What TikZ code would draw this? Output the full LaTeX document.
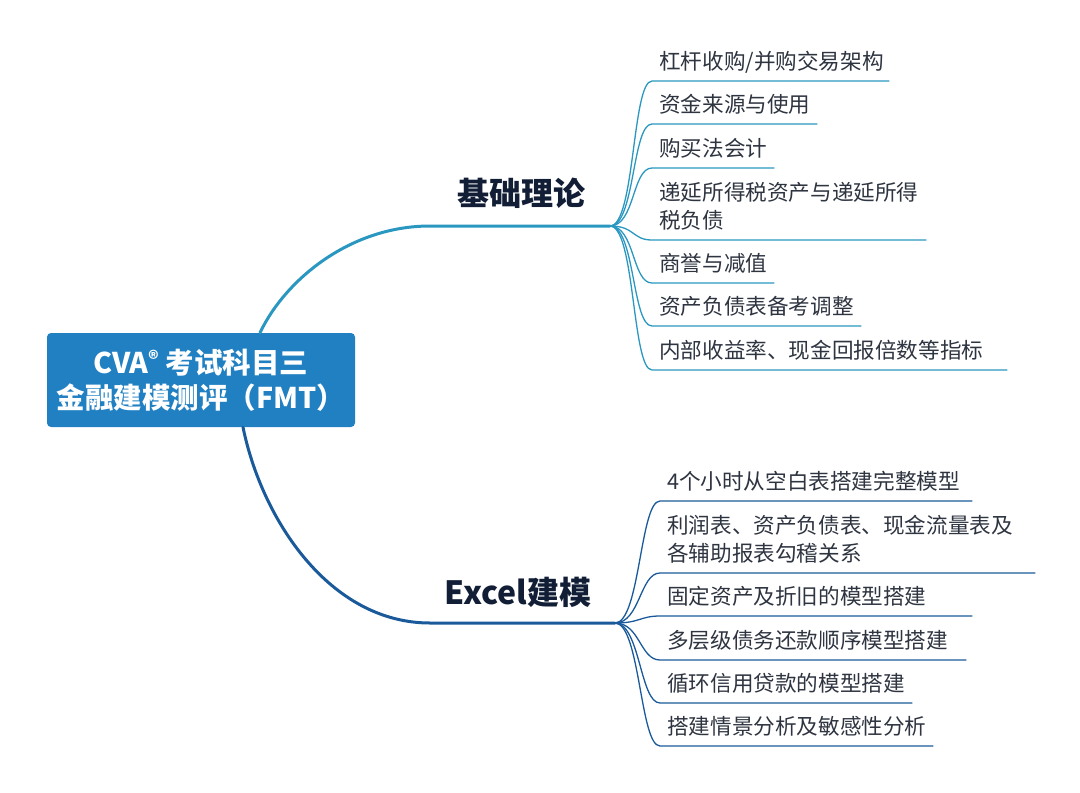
\documentclass[tikz,border=0pt]{standalone}
\usepackage{fontspec}
\setmainfont{Noto Sans CJK SC}
\usepackage{tikz}
\usetikzlibrary{positioning}

\definecolor{rootblue}{HTML}{2180C2}
\definecolor{topline}{HTML}{2A97C0}
\definecolor{botline}{HTML}{1B5A9A}
\definecolor{labelnavy}{HTML}{111E36}
\definecolor{leafgray}{HTML}{2E3440}

\newcommand\rootfont{\fontsize{28.5}{35}\selectfont\bfseries}
\newcommand\branchfont{\fontsize{32}{36}\selectfont\bfseries}
\newcommand\leaffont{\fontsize{21.6}{28}\selectfont}

\begin{document}
\begin{tikzpicture}[
  x=1pt,y=-1pt,
  root/.style={fill=rootblue, rounded corners=4pt, minimum width=308pt, minimum height=94pt, align=center, text=white, font=\rootfont},
  branch/.style={font=\branchfont, text=labelnavy},
  leaf/.style={anchor=south west, align=left, inner xsep=7pt, inner ysep=11.5pt, text depth=0pt, font=\leaffont, text=leafgray},
  twoline/.style={text depth=28pt},
  trunk/.style={line width=3pt, line cap=round},
  twig/.style={line width=1.3pt}
]
\useasboundingbox (0,0) rectangle (1080,793);

% central topic
\node[root] (root) at (201,380) {CVA{\fontsize{20}{20}\selectfont\raisebox{0.6ex}{®}} 考试科目三\\金融建模测评（FMT）};

% main branches
\coordinate (hubA) at (610,226);
\coordinate (hubB) at (615,623);
\node[branch] (theory) at (521,193) {基础理论};
\node[branch] (excel) at (518,592) {Excel建模};

\draw[trunk, topline] ([xshift=59]root.north) .. controls (285,280) and (350,226) .. (430,226) -- (hubA);
\draw[trunk, botline] ([xshift=42]root.south) .. controls (262,520) and (330,623) .. (430,623) -- (hubB);

% theory leaves
\node[leaf, text width=223pt] (a1) at (652,81) {杠杆收购/并购交易架构};
\node[leaf, text width=151pt] (a2) at (652,124) {资金来源与使用};
\node[leaf, text width=108pt] (a3) at (652,168) {购买法会计};
\node[leaf, twoline, text width=260pt] (a4) at (652,240) {递延所得税资产与递延所得\\税负债};
\node[leaf, text width=108pt] (a5) at (652,283) {商誉与减值};
\node[leaf, text width=195pt] (a6) at (652,326) {资产负债表备考调整};
\node[leaf, text width=341pt] (a7) at (652,370) {内部收益率、现金回报倍数等指标};

\draw[twig, topline] (hubA) .. controls +(25,0) and +(-20,0) .. (a1.south west) -- (a1.south east);
\draw[twig, topline] (hubA) .. controls +(25,0) and +(-20,0) .. (a2.south west) -- (a2.south east);
\draw[twig, topline] (hubA) .. controls +(25,0) and +(-20,0) .. (a3.south west) -- (a3.south east);
\draw[twig, topline] (hubA) .. controls +(25,0) and +(-20,0) .. (a4.south west) -- (a4.south east);
\draw[twig, topline] (hubA) .. controls +(25,0) and +(-20,0) .. (a5.south west) -- (a5.south east);
\draw[twig, topline] (hubA) .. controls +(25,0) and +(-20,0) .. (a6.south west) -- (a6.south east);
\draw[twig, topline] (hubA) .. controls +(25,0) and +(-20,0) .. (a7.south west) -- (a7.south east);

% excel leaves
\node[leaf, text width=298pt] (b1) at (660,501) {4个小时从空白表搭建完整模型};
\node[leaf, twoline, text width=361pt] (b2) at (660,573) {利润表、资产负债表、现金流量表及\\各辅助报表勾稽关系};
\node[leaf, text width=298pt] (b3) at (660,616) {固定资产及折旧的模型搭建};
\node[leaf, text width=292pt] (b4) at (660,660) {多层级债务还款顺序模型搭建};
\node[leaf, text width=238pt] (b5) at (660,703) {循环信用贷款的模型搭建};
\node[leaf, text width=259pt] (b6) at (660,746) {搭建情景分析及敏感性分析};

\draw[twig, botline] (hubB) .. controls +(25,0) and +(-20,0) .. (b1.south west) -- (b1.south east);
\draw[twig, botline] (hubB) .. controls +(25,0) and +(-20,0) .. (b2.south west) -- (b2.south east);
\draw[twig, botline] (hubB) .. controls +(25,0) and +(-20,0) .. (b3.south west) -- (b3.south east);
\draw[twig, botline] (hubB) .. controls +(25,0) and +(-20,0) .. (b4.south west) -- (b4.south east);
\draw[twig, botline] (hubB) .. controls +(25,0) and +(-20,0) .. (b5.south west) -- (b5.south east);
\draw[twig, botline] (hubB) .. controls +(25,0) and +(-20,0) .. (b6.south west) -- (b6.south east);

\end{tikzpicture}
\end{document}
